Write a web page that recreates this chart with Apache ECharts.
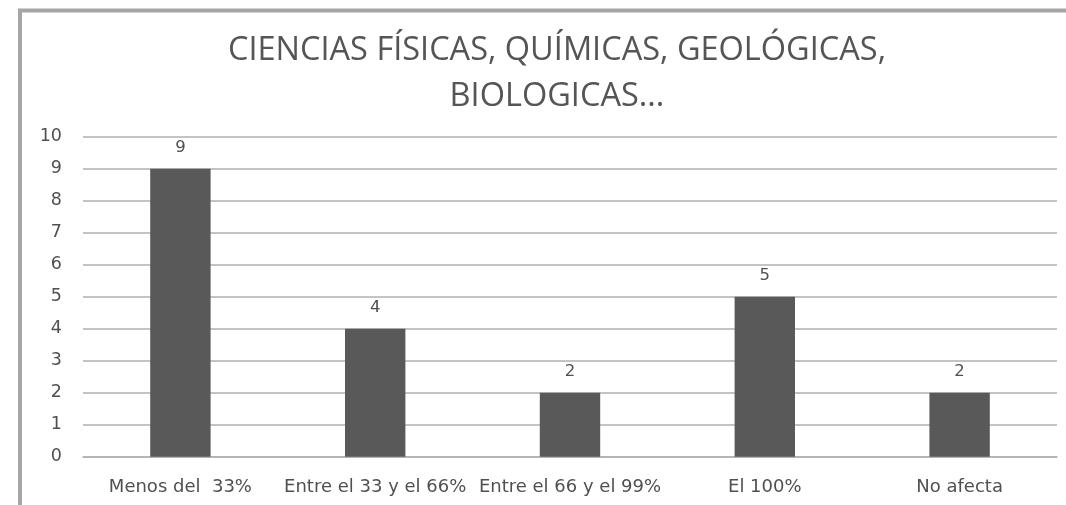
<!DOCTYPE html>
<html>
<head>
<meta charset="utf-8">
<script src="https://cdn.jsdelivr.net/npm/echarts@6/dist/echarts.min.js"></script>
<style>
  html, body { margin: 0; padding: 0; background: #ffffff; }
  #chart { width: 1066px; height: 505px; }
</style>
</head>
<body>
<div id="chart"></div>
<script>
const titleLines = ['CIENCIAS FÍSICAS, QUÍMICAS, GEOLÓGICAS,', 'BIOLOGICAS...'];
const categories = ['Menos del  33%', 'Entre el 33 y el 66%', 'Entre el 66 y el 99%', 'El 100%', 'No afecta'];
const values = [9, 4, 2, 5, 2];
const yMin = 0, yMax = 10, yInterval = 1;

const chart = echarts.init(document.getElementById('chart'), null, { renderer: 'canvas' });
chart.setOption({
  backgroundColor: '#ffffff',
  animation: false,
  title: {
    text: titleLines.join('\n'),
    left: 552,
    top: 23,
    textAlign: 'center',
    textStyle: {
      fontFamily: 'Open Sans',
      fontSize: 32.5,
      fontWeight: 'normal',
      color: '#555555',
      lineHeight: 46
    }
  },
  graphic: [{
    type: 'polyline',
    shape: { points: [[20, 505], [20, 10.5], [1066, 10.5]] },
    style: { stroke: '#a6a6a6', lineWidth: 4, fill: null },
    silent: true
  }],
  grid: { left: 83, right: 9, top: 136.7, bottom: 48.3, containLabel: false },
  xAxis: {
    type: 'category',
    data: categories,
    axisLine: { show: true, lineStyle: { color: '#b0b0b0', width: 1.5 } },
    axisTick: { show: false },
    axisLabel: {
      interval: 0,
      margin: 22,
      fontFamily: 'DejaVu Sans',
      fontSize: 18,
      color: '#505050'
    }
  },
  yAxis: {
    type: 'value',
    min: yMin,
    max: yMax,
    interval: yInterval,
    axisLine: { show: false },
    axisTick: { show: false },
    splitLine: { show: true, lineStyle: { color: '#b0b0b0', width: 1.5 } },
    axisLabel: {
      margin: 21,
      fontFamily: 'DejaVu Sans',
      fontSize: 17.5,
      color: '#505050'
    }
  },
  series: [{
    type: 'bar',
    data: values,
    barWidth: '31%',
    itemStyle: { color: '#595959' },
    label: {
      show: true,
      position: 'top',
      distance: 12,
      fontFamily: 'DejaVu Sans',
      fontSize: 16.5,
      color: '#505050'
    }
  }]
});
</script>
</body>
</html>
